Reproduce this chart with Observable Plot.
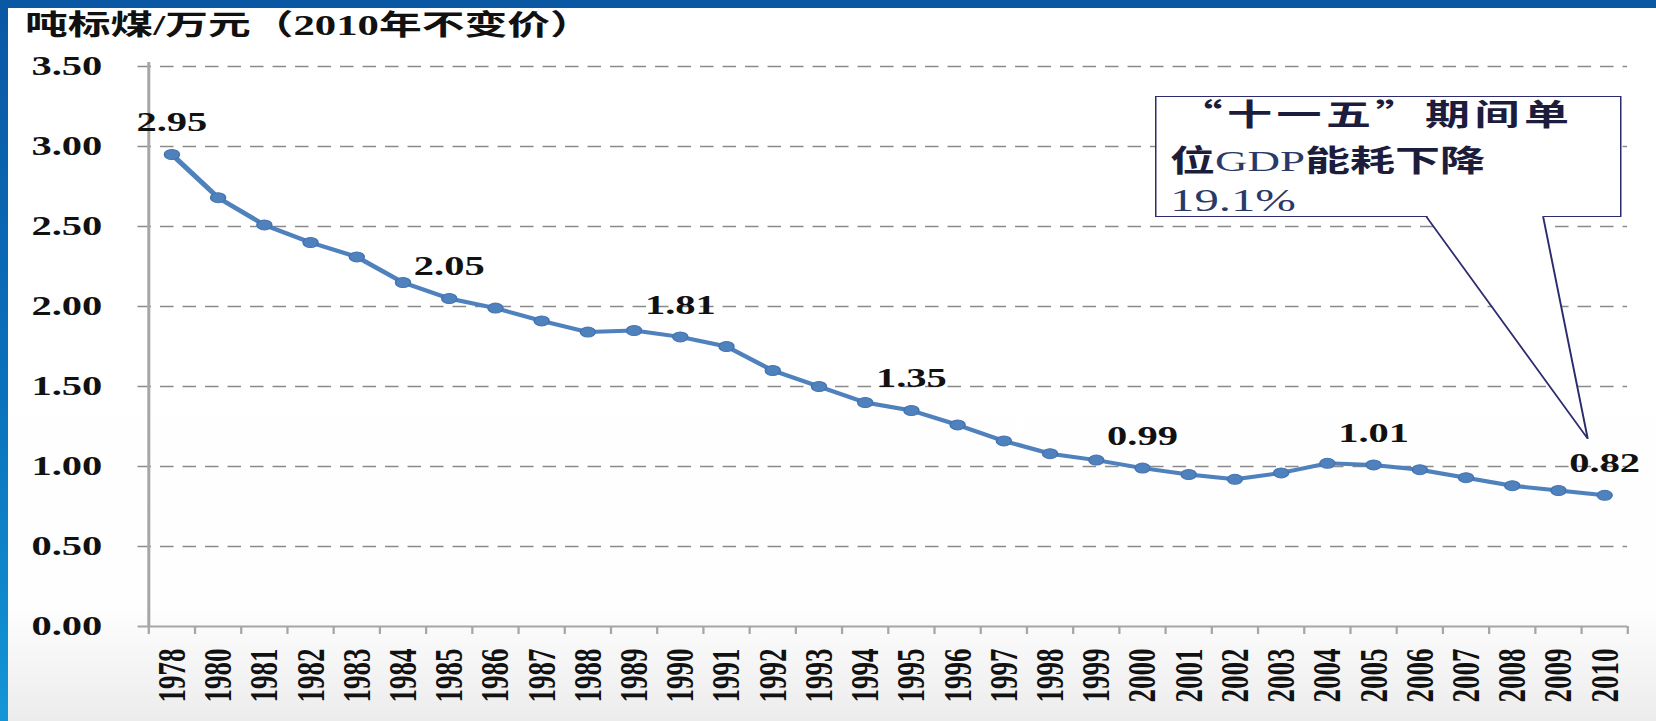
<!DOCTYPE html>
<html>
<head>
<meta charset="utf-8">
<script src="https://cdn.jsdelivr.net/npm/d3@7"></script>
<script src="https://cdn.jsdelivr.net/npm/@observablehq/plot@0.6"></script>
<style>
html, body { margin: 0; padding: 0; background: #ffffff; }
#stage { position: relative; width: 1656px; height: 721px; overflow: hidden;
  background: linear-gradient(to bottom, #ffffff 0%, #fefefe 84%, #ececec 100%); }
#topbar { position: absolute; left: 0; top: 0; width: 1656px; height: 8px; background: #0a57a4; }
#leftbar { position: absolute; left: 0; top: 0; width: 8px; height: 721px;
  background: linear-gradient(to bottom, #0a57a4 0%, #0a72bd 55%, #1396d8 100%); }
#scaled { position: absolute; left: 0; top: 0; width: 1104px; height: 721px;
  transform: scaleX(1.5); transform-origin: 0 0; }
#title { position: absolute; left: 16.7px; top: 8px; font-family: "Liberation Serif", "Noto Sans CJK SC";
  font-weight: bold; font-size: 28.5px; line-height: 36px; white-space: nowrap; color: #111; }
#chart { position: absolute; left: 0; top: 50px; }
#callout { position: absolute; left: 770px; top: 96px; width: 310.7px; height: 121px; box-sizing: border-box;
  border: 1.5px solid #2b2b6e; background: #ffffff; }
.cl { position: absolute; left: 9px; white-space: nowrap; line-height: 1; }
.cjk { font-family: "Noto Sans CJK SC"; font-weight: bold; font-size: 30px; color: #1c1c3c; }
.lat { font-family: "Liberation Serif"; font-weight: normal; color: #2a3966; }
#pointer { position: absolute; left: 0; top: 0; overflow: visible; }
</style>
</head>
<body>
<div id="stage">
  <div id="topbar"></div>
  <div id="leftbar"></div>
  <div id="scaled">
    <div id="title"></div>
    <div id="chart"></div>
    <div id="callout">
      <div class="cl cjk" id="line1" style="top:0px;left:14px;letter-spacing:3px;"></div>
      <div class="cl cjk" id="line2" style="top:46px;"></div>
      <div class="cl lat" id="line3" style="top:87px;font-size:32.5px;"></div>
    </div>
    <svg id="pointer" width="1104" height="721"></svg>
  </div>
</div>
<script>
// ---- data ----
const titleText = "吨标煤/万元（2010年不变价）";
const years = ["1978","1980","1981","1982","1983","1984","1985","1986","1987","1988","1989","1990","1991","1992","1993","1994","1995","1996","1997","1998","1999","2000","2001","2002","2003","2004","2005","2006","2007","2008","2009","2010"];
const values = [2.95,2.68,2.51,2.40,2.31,2.15,2.05,1.99,1.91,1.84,1.85,1.81,1.75,1.60,1.50,1.40,1.35,1.26,1.16,1.08,1.04,0.99,0.95,0.92,0.96,1.02,1.01,0.98,0.93,0.88,0.85,0.82];
const labeledYears = ["1978","1985","1990","1995","2000","2005","2010"];
const yTicks = [0, 0.5, 1.0, 1.5, 2.0, 2.5, 3.0, 3.5];
const calloutLine1 = "“十一五”期间单";
const calloutLine2 = ["位", "GDP", "能耗下降"];
const calloutLine3 = "19.1%";
// callout tip anchored in data units (year index, value)
const calloutTip = {i: 30.65, v: 1.17};

// ---- build ----
const data = years.map((year, i) => ({i, year, v: values[i]}));
const boundaries = d3.range(years.length + 1).map(k => k - 0.5);
const serif = "Liberation Serif";

const plot = Plot.plot({
  width: 1104,
  height: 671,
  marginLeft: 98.7,
  marginRight: 19.3,
  marginTop: 16,
  marginBottom: 95,
  style: {background: "transparent", overflow: "visible"},
  x: {type: "linear", domain: [-0.5, years.length - 0.5]},
  y: {domain: [0, 3.5]},
  marks: [
    Plot.ruleY(yTicks.filter(d => d > 0), {stroke: "#8a8a8a", strokeWidth: 1.3, strokeDasharray: "9,6", insetLeft: -7}),
    Plot.ruleY([0], {stroke: "#a6a6a6", strokeWidth: 2.2, insetLeft: -7}),
    Plot.ruleX([-0.5], {stroke: "#a6a6a6", strokeWidth: 2, insetTop: -4}),
    Plot.axisX(boundaries, {tickSize: 8, tickFormat: () => "", stroke: "#a6a6a6", strokeWidth: 1.5, label: null}),
    Plot.axisX(data.map(d => d.i), {tickSize: 0, tickPadding: 22, tickRotate: -90, tickFormat: i => years[i],
      fontSize: 27, fontWeight: "bold", fontFamily: serif, fill: "#111", label: null}),
    Plot.axisY(yTicks, {tickSize: 0, tickPadding: 31, tickFormat: d => d.toFixed(2),
      fontSize: 27, fontWeight: "bold", fontFamily: serif, fill: "#111", label: null}),
    Plot.line(data, {x: "i", y: "v", stroke: "#4f81bd", strokeWidth: 4}),
    Plot.dot(data, {x: "i", y: "v", r: 5, fill: "#4f81bd", stroke: "#4374b2", strokeWidth: 1}),
    Plot.text(data.filter(d => labeledYears.includes(d.year)), {x: "i", y: "v", text: d => d.v.toFixed(2), dy: -32,
      fontSize: 27, fontWeight: "bold", fontFamily: serif, fill: "#111"})
  ]
});
document.getElementById("chart").appendChild(plot);
document.getElementById("title").textContent = titleText;

// callout text
document.getElementById("line1").textContent = calloutLine1;
const l2 = document.getElementById("line2");
calloutLine2.forEach((t, k) => {
  const s = document.createElement("span");
  s.textContent = t;
  if (k === 1) s.className = "lat";
  l2.appendChild(s);
});
document.getElementById("line3").textContent = calloutLine3;

// callout pointer, tip placed through the chart's scales
const xs = plot.scale("x"), ys = plot.scale("y");
const chartTop = 50;
const tipX = xs.apply(calloutTip.i), tipY = ys.apply(calloutTip.v) + chartTop;
const box = document.getElementById("callout");
const boxBottom = box.offsetTop + box.offsetHeight;
const baseL = 950.7, baseR = 1028.7;
const ptr = d3.select("#pointer");
ptr.append("polygon")
  .attr("points", `${baseL},${boxBottom - 2.5} ${tipX},${tipY} ${baseR},${boxBottom - 2.5}`)
  .attr("fill", "#ffffff");
ptr.append("path")
  .attr("d", `M${baseL},${boxBottom - 0.75}L${tipX},${tipY}L${baseR},${boxBottom - 0.75}`)
  .attr("fill", "none").attr("stroke", "#2b2b6e").attr("stroke-width", 1.3);
</script>
</body>
</html>
